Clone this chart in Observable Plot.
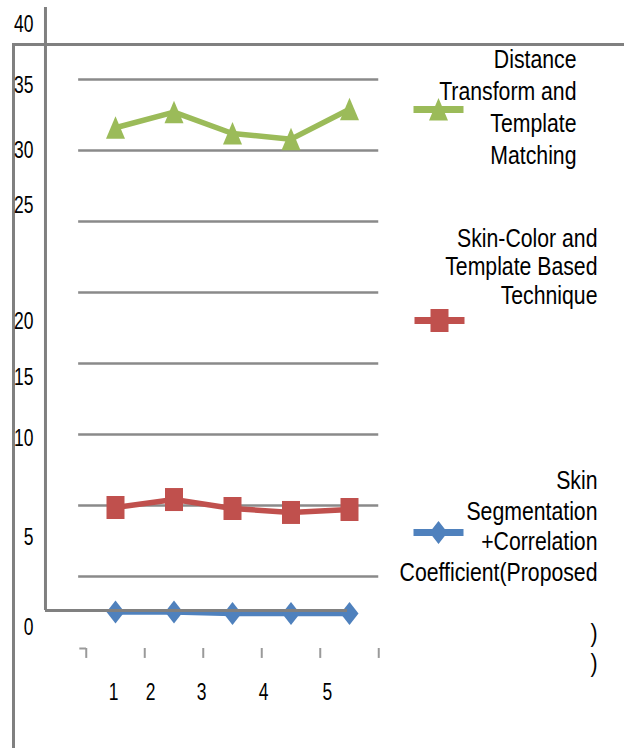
<!DOCTYPE html>
<html><head><meta charset="utf-8">
<script src="https://cdn.jsdelivr.net/npm/d3@7"></script>
<script src="https://cdn.jsdelivr.net/npm/@observablehq/plot@0.6"></script>
<style>
html,body{margin:0;padding:0;background:#fff;overflow:hidden}
#chart{width:624px;height:748px;}
</style></head><body><div id="chart"></div>
<script>
// ---- data ----
const categories = [1, 2, 3, 4, 5];
const seriesNames = [
  "Distance\nTransform and\nTemplate\nMatching",
  "Skin-Color and\nTemplate Based\nTechnique",
  "Skin\nSegmentation\n+Correlation\nCoefficient(Proposed\n\n)\n)"
];
const greenValues = [31.6, 32.7, 31.2, 30.8, 32.9];
const redValues = [4.86, 5.42, 4.79, 4.51, 4.72];
const blueValues = [-2.5, -2.5, -2.6, -2.6, -2.6];
const gridValues = [0, 5, 10, 15, 20, 25, 30, 35];
const yTickLabels = ["40", "35", "30", "25", "20", "15", "10", "5", "0"];
const xTickLabels = ["1", "2", "3", "4", "5"];
const tickBoundaries = [0.5, 1.5, 2.5, 3.5, 4.5, 5.5];

// ---- styling / layout ----
const FONT = '"Liberation Sans",Arial,sans-serif';
const GREEN = "#9BBB59", RED = "#C0504D", BLUE = "#4F81BD";
const GRID = "#8a8a8a", AXIS = "#808080";

// apparent label placements of the (misaligned) source figure
const yLabelAt = [38.84, 34.58, 29.96, 26.13, 17.92, 14.01, 9.72, 2.75, -3.59];
const xLabelAt = [0.966, 1.60, 2.47, 3.53, 4.62];

const triSym = {draw(c){c.moveTo(0,-11.5);c.lineTo(9.5,11);c.lineTo(-9.5,11);c.closePath();}};
const sqSym = {draw(c){c.rect(-9,-11.5,18,23);}};
const diaSym = {draw(c){c.moveTo(0,-11.5);c.lineTo(9,0);c.lineTo(0,11.5);c.lineTo(-9,0);c.closePath();}};
const withBar = (s) => ({draw(c, z){c.rect(-25,-3.5,50,7); s.draw(c, z);}});

const rows = (vals) => categories.map((c, i) => ({x: c, y: vals[i]}));
const green = rows(greenValues), red = rows(redValues), blue = rows(blueValues);

const chart = Plot.plot({
  width: 624,
  height: 748,
  margin: 0,
  style: {fontFamily: FONT, fontSize: "23px", background: "white", color: "black"},
  x: {domain: [1, 5], range: [115, 349], axis: null},
  y: {domain: [0, 40], range: [576, 8], axis: null},
  marks: [
    Plot.frame({stroke: AXIS, strokeWidth: 3, insetLeft: 13, insetTop: 44, insetRight: -30, insetBottom: -30}),
    Plot.ruleY(gridValues, {x1: 0.37, x2: 5.5, stroke: GRID, strokeWidth: 2.5}),
    Plot.ruleX([-0.197], {y1: 40.07, y2: -2.39, stroke: AXIS, strokeWidth: 3}),
    Plot.ruleX(tickBoundaries, {y1: -5.07, y2: -5.77, stroke: "#9a9a9a", strokeWidth: 2}),
    Plot.ruleY([-5.07], {x1: 0.39, x2: 0.505, stroke: "#9a9a9a", strokeWidth: 2}),
    Plot.line(green, {x: "x", y: "y", stroke: GREEN, strokeWidth: 5.5}),
    Plot.line(red, {x: "x", y: "y", stroke: RED, strokeWidth: 5.5}),
    Plot.line(blue, {x: "x", y: "y", stroke: BLUE, strokeWidth: 5.5}),
    Plot.dot(green, {x: "x", y: "y", symbol: triSym, fill: GREEN, stroke: null}),
    Plot.dot(red, {x: "x", y: "y", symbol: sqSym, fill: RED, stroke: null}),
    Plot.dot(blue, {x: "x", y: "y", symbol: diaSym, fill: BLUE, stroke: null}),
    Plot.ruleY([-2.39], {x1: -0.197, x2: 4.966, stroke: AXIS, strokeWidth: 3}),
    Plot.text(yTickLabels, {y: (d, i) => yLabelAt[i], text: d => d, frameAnchor: "left", dx: 33,
      textAnchor: "end", lineAnchor: "middle", fontSize: 23}),
    Plot.text(xTickLabels, {x: (d, i) => xLabelAt[i], text: d => d, frameAnchor: "top", dy: 692,
      lineAnchor: "middle", fontSize: 23}),
    Plot.dot([0], {frameAnchor: "top-left", dx: 438, dy: 109, symbol: withBar(triSym), fill: GREEN, stroke: null}),
    Plot.dot([0], {frameAnchor: "top-left", dx: 439, dy: 320, symbol: withBar(sqSym), fill: RED, stroke: null}),
    Plot.dot([0], {frameAnchor: "top-left", dx: 438, dy: 532, symbol: withBar(diaSym), fill: BLUE, stroke: null}),
    Plot.text([seriesNames[0]], {text: d => d, frameAnchor: "top-left", dx: 576, dy: 45, textAnchor: "end",
      lineAnchor: "top", lineHeight: 1.28, fontSize: 25}),
    Plot.text([seriesNames[1]], {text: d => d, frameAnchor: "top-left", dx: 597, dy: 226, textAnchor: "end",
      lineAnchor: "top", lineHeight: 1.14, fontSize: 25}),
    Plot.text([seriesNames[2]], {text: d => d, frameAnchor: "top-left", dx: 597, dy: 467, textAnchor: "end",
      lineAnchor: "top", lineHeight: 1.22, fontSize: 25})
  ]
});
// condensed look of the source typeface (Arial Narrow-like)
d3.select(chart).selectAll("text").each(function () {
  const fs = +(this.getAttribute("font-size") || this.parentNode.getAttribute("font-size") || 23);
  const s = fs >= 25 ? 0.85 : 0.76;
  const t = this.getAttribute("transform") || "";
  this.setAttribute("transform", `${t} scale(${s},1)`);
});
document.getElementById("chart").appendChild(chart);
</script></body></html>
